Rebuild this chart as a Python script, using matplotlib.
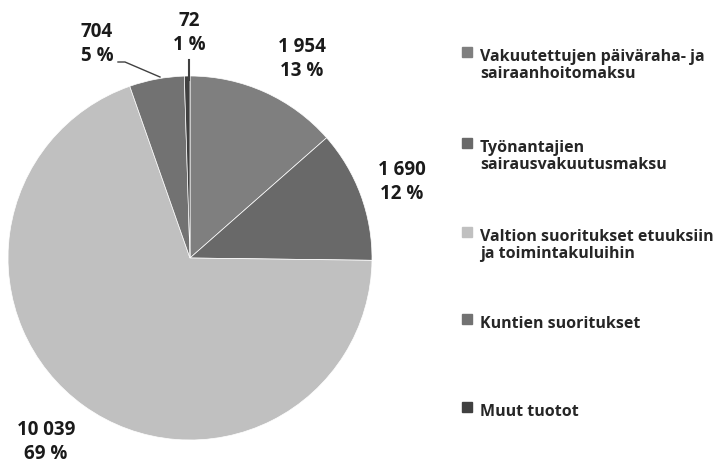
import matplotlib.pyplot as plt
from matplotlib.patches import Rectangle

plt.rcParams['font.family'] = ['Open Sans', 'DejaVu Sans']

# data
categories = ['Vakuutettujen päiväraha- ja\nsairaanhoitomaksu',
              'Työnantajien\nsairausvakuutusmaksu',
              'Valtion suoritukset etuuksiin\nja toimintakuluihin',
              'Kuntien suoritukset',
              'Muut tuotot']
values = [1954, 1690, 10039, 704, 72]
value_labels = ['1 954', '1 690', '10 039', '704', '72']
pct_labels = ['13 %', '12 %', '69 %', '5 %', '1 %']
colors = ['#7f7f7f', '#696969', '#c0c0c0', '#727272', '#404040']

W, H = 716, 468
fig = plt.figure(figsize=(W / 100, H / 100), dpi=100)
ax = fig.add_axes([0, 0, 1, 1])


def Y(y):
    # pixel row (from top) -> axes y
    return H - y


cx, cy, r = 190, 258, 182
ax.pie(values, colors=colors, startangle=90, counterclock=False,
       center=(cx, Y(cy)), radius=r, frame=True,
       wedgeprops=dict(linewidth=0.5, edgecolor='white'))
ax.set_xlim(0, W)
ax.set_ylim(0, H)
ax.set_aspect('equal')
ax.axis('off')

# data labels
label_pos = [(302, 59), (402, 182), (46, 442), (97, 44), (189, 33)]
for (x, y), v, p in zip(label_pos, value_labels, pct_labels):
    ax.text(x, Y(y), v + '\n' + p, ha='center', va='center', fontsize=13.5,
            fontweight='bold', color='#1a1a1a', linespacing=1.25)

# leader lines
ax.plot([118, 125, 160], [Y(62), Y(62), Y(77)], color='#404040', lw=1)
ax.plot([188.5, 188.5], [Y(60), Y(80)], color='#404040', lw=1.5)

# legend
leg_y = [55, 146, 235, 322, 410]
for y, lab, c in zip(leg_y, categories, colors):
    ax.add_patch(Rectangle((462, Y(y) - 2), 10, 10, color=c))
    ax.text(480, Y(y) + 6, lab, ha='left', va='top', fontsize=11.5,
            fontweight='bold', color='#262626', linespacing=1.05)

fig.savefig('out.png', dpi=100)
